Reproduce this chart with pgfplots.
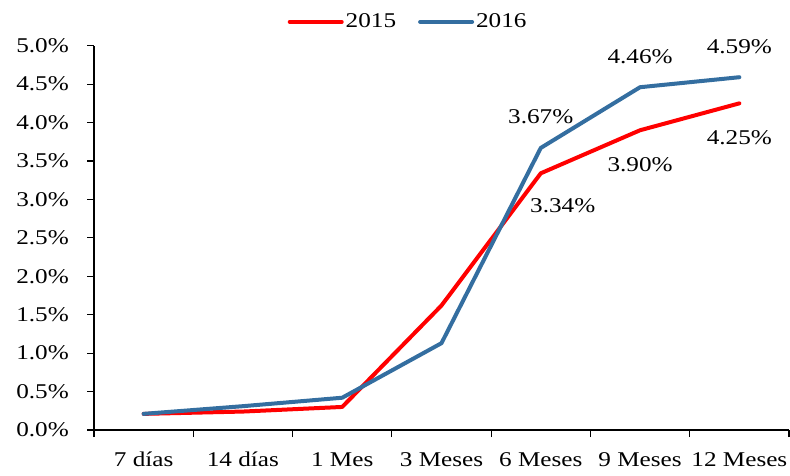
\documentclass[border=0pt]{standalone}
\usepackage{fontspec}
\setmainfont{Liberation Serif}[FakeStretch=1.2]
\usepackage{pgfplots}
\pgfplotsset{compat=1.18}
\definecolor{red15}{RGB}{255,0,0}
\definecolor{blue16}{RGB}{52,110,160}
\newcommand{\lblfont}{\fontsize{21}{24}\selectfont}
\begin{document}
\lblfont
\begin{tikzpicture}[x=1pt,y=1pt]
\path[use as bounding box] (0,0) rectangle (790,475);
\begin{axis}[
  at={(94pt,45pt)}, anchor=south west,
  scale only axis, width=695pt, height=384.3pt,
  xmin=-0.5, xmax=6.5, ymin=0, ymax=5,
  axis lines*=left,
  axis line style={line width=1.2pt},
  /pgf/number format/assume math mode=true,
  tick align=outside,
  xtick={0,...,6},
  xticklabels={7 días,14 días,1 Mes,3 Meses,6 Meses,9 Meses,12 Meses},
  minor xtick={-0.5,0.5,...,6.5},
  major x tick style={draw=none},
  minor x tick style={draw=black, line width=1.2pt},
  ytick={0,0.5,...,5},
  y tick style={draw=black, line width=1.2pt},
  major tick length=7pt, minor tick length=7pt,
  yticklabel={\pgfmathprintnumber[fixed,fixed zerofill,precision=1]{\tick}\%},
  tick label style={font=\lblfont},
  xticklabel style={yshift=-8pt},
  yticklabel style={xshift=-11pt},
  legend style={at={(0.452,1.062)}, anchor=center, draw=none, fill=none,
     legend columns=2, font=\lblfont,
     /tikz/every even column/.append style={column sep=20pt},
     inner sep=0pt},
  legend image code/.code={\draw[#1] (0pt,0pt) -- (52pt,0pt);},
  clip=false,
]
\addplot[red15, line width=4pt, line join=round, line cap=round] coordinates {
(0,0.21) (1,0.24) (2,0.30) (3,1.62) (4,3.34) (5,3.90) (6,4.25)};
\addlegendentry{2015}
\addplot[blue16, line width=4pt, line join=round, line cap=round] coordinates {
(0,0.21) (1,0.31) (2,0.42) (3,1.13) (4,3.67) (5,4.46) (6,4.59)};
\addlegendentry{2016}
\addplot[draw=none, forget plot, nodes near coords, point meta=explicit symbolic,
  nodes near coords style={anchor=center, yshift=31pt, font=\lblfont}]
  coordinates {(4,3.67)[3.67\%] (5,4.46)[4.46\%] (6,4.59)[4.59\%]};
\addplot[draw=none, forget plot, nodes near coords, point meta=explicit symbolic,
  nodes near coords style={anchor=center, xshift=22pt, yshift=-32pt, font=\lblfont}]
  coordinates {(4,3.34)[3.34\%]};
\addplot[draw=none, forget plot, nodes near coords, point meta=explicit symbolic,
  nodes near coords style={anchor=center, yshift=-34.5pt, font=\lblfont}]
  coordinates {(5,3.90)[3.90\%] (6,4.25)[4.25\%]};
\end{axis}
\end{tikzpicture}
\end{document}
